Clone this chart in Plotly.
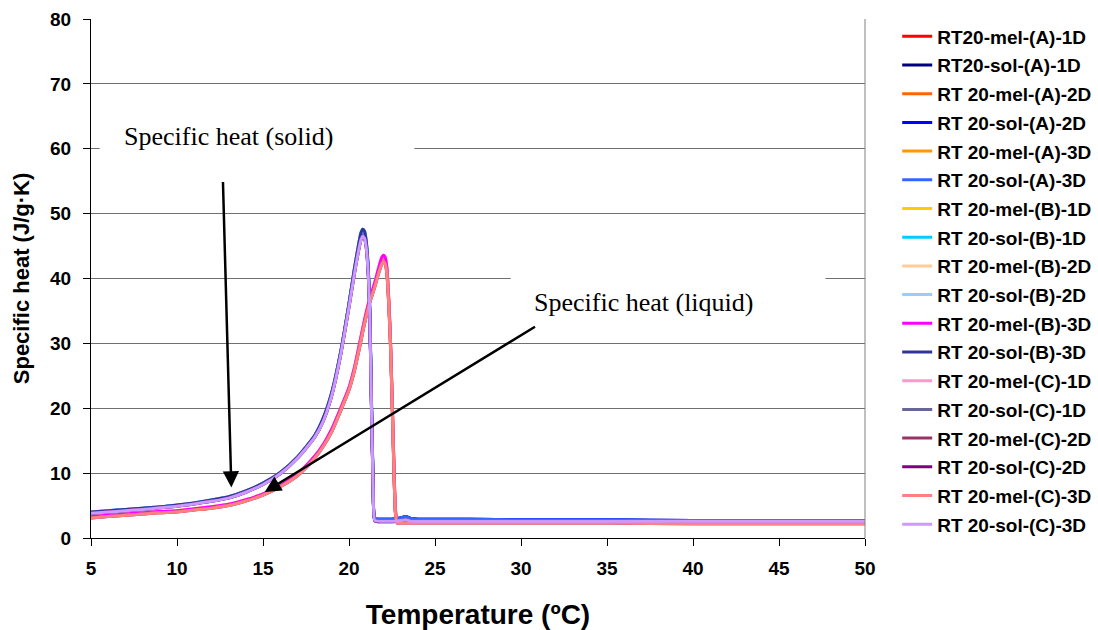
import plotly.graph_objects as go

# ---------------- data ----------------
temp_sol = [5, 6, 7, 8, 9, 10, 11, 12, 13, 14, 15, 16, 17, 18, 18.5, 19, 19.5, 20, 20.3, 20.5,
            20.7, 20.8, 20.9, 21.0, 21.1, 21.2, 21.3, 21.4, 21.5, 21.7, 22, 22.5, 23, 23.3, 23.6,
            24, 25, 27, 30, 35, 40, 45, 50]
temp_mel = [5, 6, 7, 8, 9, 10, 11, 12, 13, 14, 15, 16, 17, 18, 18.5, 19, 19.5, 20, 20.3, 20.6,
            20.9, 21.2, 21.5, 21.7, 21.9, 22.0, 22.1, 22.2, 22.3, 22.4, 22.5, 22.6, 22.7, 22.8, 23,
            24, 25, 27, 30, 35, 40, 45, 50]

sol_A = [3.9, 4.1, 4.3, 4.5, 4.75, 5.0, 5.35, 5.75, 6.25, 7.15, 8.35, 10.0, 12.4, 15.7, 18.3, 22.3,
         28.3, 36.0, 41.0, 44.0, 46.6, 47.1, 46.8, 45.3, 42.0, 35.5, 21.5, 8.5, 3.0, 2.9, 2.9,
         2.9, 3.1, 3.3, 3.0, 2.9, 2.9, 2.9, 2.8, 2.8, 2.7, 2.7, 2.7]
sol_B = [4.0, 4.2, 4.4, 4.6, 4.8, 5.1, 5.4, 5.85, 6.35, 7.25, 8.45, 10.1, 12.5, 15.8, 18.5, 22.5,
         28.5, 36.2, 41.3, 44.4, 47.1, 47.6, 47.3, 45.8, 42.5, 36.0, 22.0, 9.0, 2.6, 2.5, 2.5,
         2.5, 2.6, 2.7, 2.5, 2.5, 2.5, 2.4, 2.4, 2.4, 2.4, 2.3, 2.3]
sol_C = [3.8, 4.0, 4.2, 4.4, 4.65, 4.9, 5.25, 5.65, 6.15, 7.05, 8.25, 9.9, 12.3, 15.5, 18.0, 22.0,
         28.0, 35.6, 40.5, 43.5, 46.0, 46.5, 46.2, 44.8, 41.5, 35.0, 21.0, 8.0, 2.7, 2.6, 2.6,
         2.6, 2.7, 2.8, 2.6, 2.6, 2.6, 2.6, 2.6, 2.6, 2.6, 2.6, 2.6]

mel_A = [3.2, 3.4, 3.6, 3.8, 4.0, 4.1, 4.4, 4.7, 5.1, 5.8, 6.7, 8.0, 9.8, 12.5, 14.3, 16.6,
         19.7, 23.0, 25.8, 29.5, 33.3, 36.5, 39.0, 41.0, 42.6, 43.0, 42.7, 41.2, 37.0, 31.0,
         22.0, 12.0, 4.0, 2.6, 2.6, 2.6, 2.6, 2.5, 2.5, 2.5, 2.5, 2.5, 2.6]
mel_B = [3.3, 3.5, 3.7, 3.9, 4.1, 4.2, 4.5, 4.8, 5.2, 5.9, 6.8, 8.1, 9.9, 12.6, 14.4, 16.8,
         19.9, 23.2, 26.1, 29.8, 33.6, 36.8, 39.4, 41.4, 43.2, 43.6, 43.3, 41.8, 37.5, 31.5,
         22.5, 12.5, 4.5, 2.5, 2.5, 2.5, 2.5, 2.5, 2.4, 2.4, 2.4, 2.3, 2.3]
mel_C = [3.1, 3.3, 3.5, 3.7, 3.9, 4.0, 4.3, 4.6, 5.0, 5.7, 6.6, 7.9, 9.6, 12.3, 14.1, 16.4,
         19.5, 22.8, 25.6, 29.2, 33.0, 36.2, 38.7, 40.6, 42.2, 42.6, 42.3, 40.8, 36.5, 30.5,
         21.5, 11.5, 3.8, 2.3, 2.3, 2.3, 2.3, 2.3, 2.3, 2.3, 2.2, 2.2, 2.2]

series_names = [
    "RT20-mel-(A)-1D", "RT20-sol-(A)-1D", "RT 20-mel-(A)-2D", "RT 20-sol-(A)-2D",
    "RT 20-mel-(A)-3D", "RT 20-sol-(A)-3D", "RT 20-mel-(B)-1D", "RT 20-sol-(B)-1D",
    "RT 20-mel-(B)-2D", "RT 20-sol-(B)-2D", "RT 20-mel-(B)-3D", "RT 20-sol-(B)-3D",
    "RT 20-mel-(C)-1D", "RT 20-sol-(C)-1D", "RT 20-mel-(C)-2D", "RT 20-sol-(C)-2D",
    "RT 20-mel-(C)-3D", "RT 20-sol-(C)-3D",
]
series_colors = [
    "#FF0000", "#000080", "#FF6600", "#0000FF", "#FF9900", "#3366FF",
    "#FFCC00", "#00CCFF", "#FFCC99", "#99CCFF", "#FF00FF", "#333399",
    "#FF99CC", "#666699", "#993366", "#800080", "#FF8080", "#CC99FF",
]

x_ticks = [5, 10, 15, 20, 25, 30, 35, 40, 45, 50]
y_ticks = [0, 10, 20, 30, 40, 50, 60, 70, 80]

sol_data = {"A": sol_A, "B": sol_B, "C": sol_C}
mel_data = {"A": mel_A, "B": mel_B, "C": mel_C}

# ---------------- figure ----------------
fig = go.Figure()
for name, color in zip(series_names, series_colors):
    batch = name.split("(")[1][0]
    if "-sol-" in name:
        xs, ys = temp_sol, sol_data[batch]
    else:
        xs, ys = temp_mel, mel_data[batch]
    fig.add_trace(go.Scatter(x=xs, y=ys, mode="lines", name=name, legendgroup=name,
                             line=dict(color=color, width=3, shape="spline", smoothing=0.6)))

bold_font = dict(family="Liberation Sans, Arial, sans-serif", color="black", weight="bold")
serif_font = dict(family="Liberation Serif, Times New Roman, serif", color="black", size=26)

fig.update_layout(
    width=1098, height=630,
    margin=dict(l=91, r=233, t=19, b=92, autoexpand=False),
    paper_bgcolor="white", plot_bgcolor="white",
    showlegend=True,
    legend=dict(x=1.3, xanchor="right", y=1.003, yanchor="top",
                font=dict(size=19, **bold_font), tracegroupgap=1, maxheight=600,
                bgcolor="rgba(0,0,0,0)", itemwidth=30, borderwidth=0),
    xaxis=dict(range=[5, 50], tickvals=x_ticks, ticks="outside", ticklen=7, tickcolor="black",
               showline=True, linecolor="black", linewidth=1, showgrid=False, zeroline=False,
               automargin=False,
               tickfont=dict(size=19, **bold_font), ticklabelstandoff=6,
               title=dict(text="Temperature (ºC)", font=dict(size=28, **bold_font), standoff=26)),
    yaxis=dict(range=[0, 80], tickvals=y_ticks, ticks="outside", ticklen=7, tickcolor="black",
               showline=True, linecolor="black", linewidth=1, showgrid=True,
               gridcolor="#707070", gridwidth=1, zeroline=False, automargin=False,
               tickfont=dict(size=19, **bold_font), ticklabelstandoff=8,
               title=dict(text="Specific heat (J/g·K)", font=dict(size=22, **bold_font), standoff=14)),
)

# right border of plot area
fig.add_shape(type="line", xref="paper", yref="paper", x0=1, x1=1, y0=0, y1=1,
              line=dict(color="#808080", width=1))
# white text boxes hiding the gridlines behind the labels
fig.add_shape(type="rect", xref="x", yref="y", x0=5.5, x1=23.8, y0=56.5, y1=66,
              fillcolor="white", line=dict(width=0), layer="between")
fig.add_shape(type="rect", xref="x", yref="y", x0=29.4, x1=47.7, y0=33.5, y1=42.5,
              fillcolor="white", line=dict(width=0), layer="between")

fig.add_annotation(x=13.0, y=61.9, xref="x", yref="y", text="Specific heat (solid)",
                   showarrow=False, font=serif_font)
fig.add_annotation(x=37.1, y=36.3, xref="x", yref="y", text="Specific heat (liquid)",
                   showarrow=False, font=serif_font)

# arrows
fig.add_annotation(x=13.16, y=7.8, ax=12.67, ay=55.1, xref="x", yref="y", axref="x", ayref="y",
                   text="", showarrow=True, arrowhead=2, arrowsize=1.3, arrowwidth=2.5,
                   arrowcolor="black", standoff=0, startstandoff=0)
fig.add_annotation(x=15.1, y=7.1, ax=30.9, ay=32.7, xref="x", yref="y", axref="x", ayref="y",
                   text="", showarrow=True, arrowhead=2, arrowsize=1.3, arrowwidth=2.5,
                   arrowcolor="black", standoff=0, startstandoff=0)

fig.write_html("out.html")
